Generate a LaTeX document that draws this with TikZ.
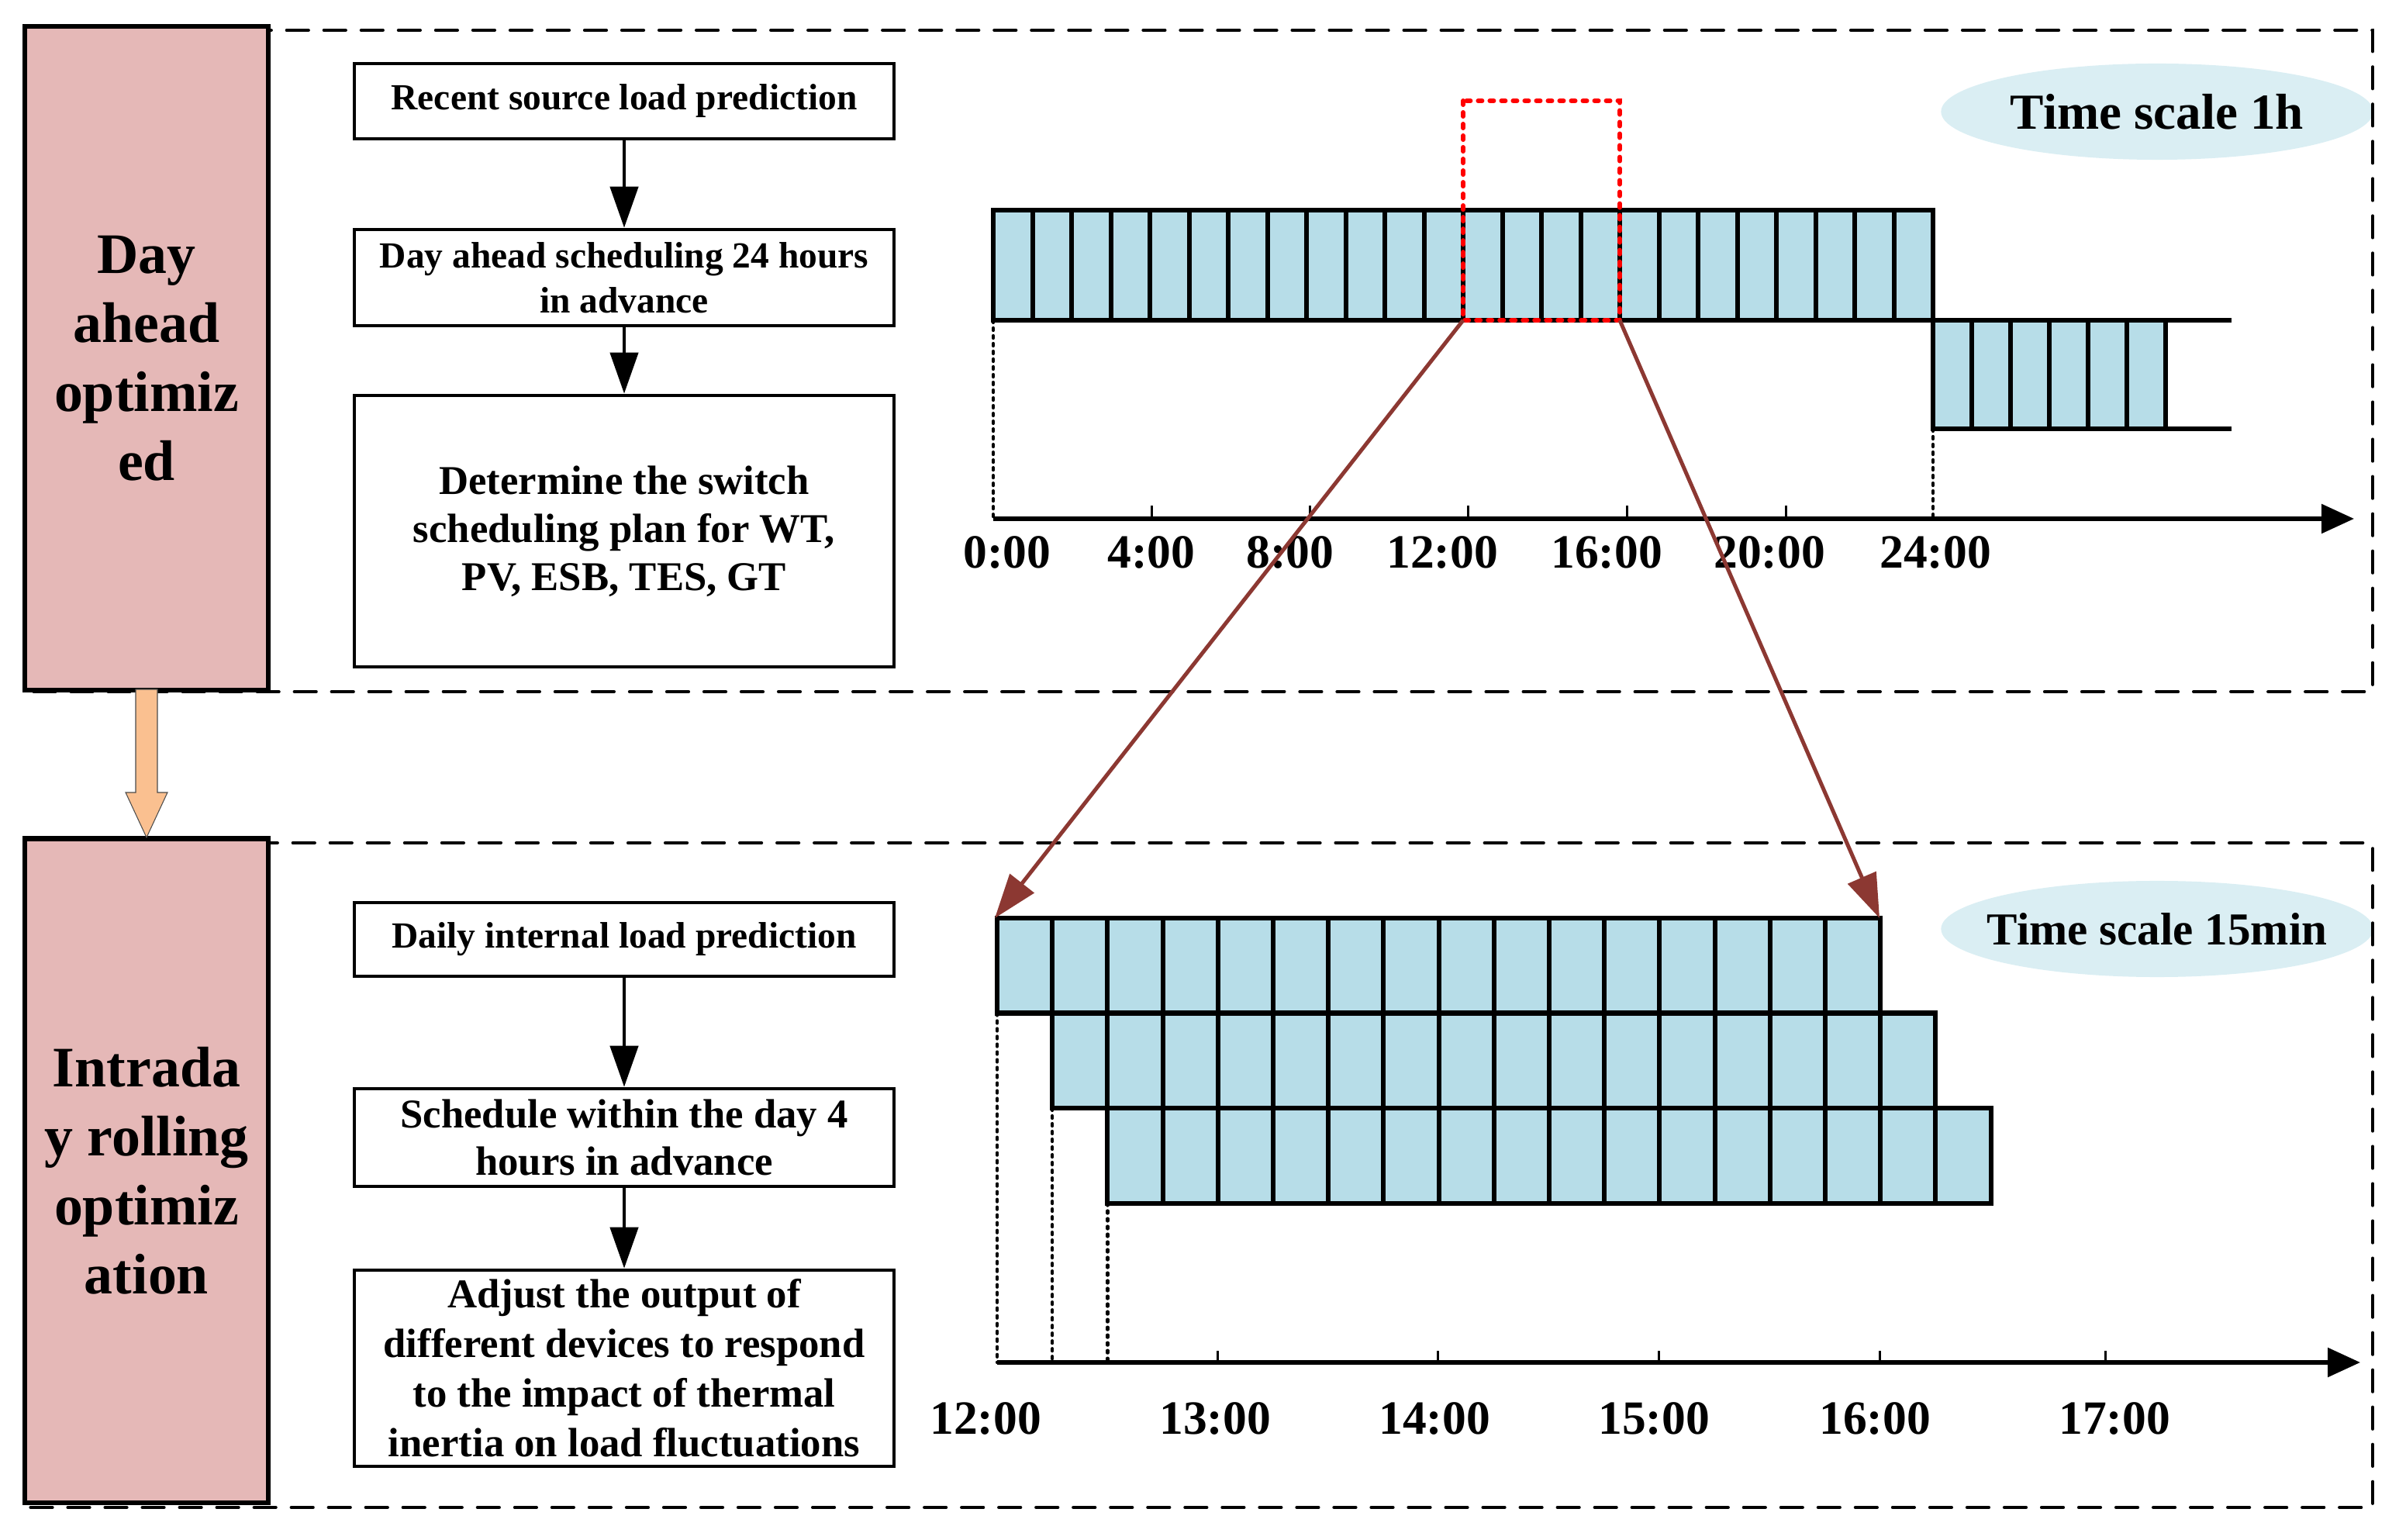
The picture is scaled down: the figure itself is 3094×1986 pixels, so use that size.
\documentclass[tikz,border=0pt]{standalone}
\usepackage{fontspec}
\setmainfont{Liberation Serif}
\usetikzlibrary{arrows.meta,shapes.geometric}
\definecolor{pinkc}{HTML}{E5B8B7}
\definecolor{cellc}{HTML}{B7DDE8}
\definecolor{ellc}{HTML}{DAEEF3}
\definecolor{orangec}{HTML}{FAC090}
\definecolor{brownc}{HTML}{8C3832}
\begin{document}
\begin{tikzpicture}[x=0.01cm,y=-0.01cm,
  flowbox/.style={draw, fill=white, line width=0.045cm, minimum width=6.96cm, inner sep=0pt, align=center},
  pinkbox/.style={draw, fill=pinkc, line width=0.06cm, minimum width=3.14cm, minimum height=8.555cm, inner sep=0pt, align=center, font=\bfseries\fontsize{21}{25.3}\selectfont},
  flowarrow/.style={line width=0.045cm, -{Triangle[length=0.53cm,width=0.36cm]}},
  cellst/.style={fill=cellc, draw=black, line width=0.06cm},
  axisst/.style={line width=0.055cm, -{Triangle[length=0.42cm,width=0.37cm]}},
  tickst/.style={line width=0.03cm},
  dotst/.style={line width=0.042cm, line cap=round, dash pattern=on 0.03cm off 0.07cm},
  paneldash/.style={line width=0.042cm, line cap=round, dash pattern=on 0.28cm off 0.2cm},
  zoomarrow/.style={draw=brownc, line width=0.05cm, -{Triangle[length=0.57cm,width=0.39cm]}},
  timelabel/.style={font=\bfseries\fontsize{17.5}{20}\selectfont, inner sep=0pt},
  scaleell/.style={ellipse, fill=ellc, minimum width=5.57cm, minimum height=1.24cm, inner sep=0pt}]
\useasboundingbox (0,0) rectangle (3094,1986);

% scale ellipses
\node[scaleell] (ts1) at (2782,144) {};
\node[font=\bfseries\fontsize{18.5}{20}\selectfont, inner sep=0pt] (ts1t) at (ts1.center) {Time scale 1h};
\node[scaleell] (ts2) at (2782,1198) {};
\node[font=\bfseries\fontsize{16.8}{20}\selectfont, inner sep=0pt] (ts2t) at (ts2.center) {Time scale 15min};

% dashed panels
\draw[paneldash] (32,39) rectangle (3060,892);
\draw[paneldash] (32,1087) rectangle (3060,1944);

% pink boxes
\node[pinkbox] (p1) at (189,462) {Day\\ahead\\optimiz\\ed};
\node[pinkbox] (p2) at (189,1509.5) {Intrada\\y rolling\\optimiz\\ation};

% orange arrow between the stages
\draw[fill=orangec, draw=black!70, line width=0.3pt]
  (175,889) -- (203,889) -- (203,1022) -- (216,1022) -- (189,1080) -- (162,1022) -- (175,1022) -- cycle;

% flow boxes, day ahead
\node[flowbox, minimum height=0.97cm, font=\bfseries\fontsize{13.5}{16.4}\selectfont] (b1) at (805,130.5) {Recent source load prediction};
\node[flowbox, minimum height=1.24cm, font=\bfseries\fontsize{13.5}{16.4}\selectfont] (b2) at (805,358) {Day ahead scheduling 24 hours\\in advance};
\node[flowbox, minimum height=3.5cm, font=\bfseries\fontsize{15}{17.6}\selectfont] (b3) at (805,685) {Determine the switch\\scheduling plan for WT,\\PV, ESB, TES, GT};
\draw[flowarrow] (b1) -- (b2);
\draw[flowarrow] (b2) -- (b3);

% flow boxes, intraday
\node[flowbox, minimum height=0.95cm, font=\bfseries\fontsize{13.5}{16.4}\selectfont] (b4) at (805,1211.5) {Daily internal load prediction};
\node[flowbox, minimum height=1.26cm, font=\bfseries\fontsize{15}{17.5}\selectfont] (b5) at (805,1467) {Schedule within the day 4\\hours in advance};
\node[flowbox, minimum height=2.53cm, font=\bfseries\fontsize{15}{18.2}\selectfont] (b6) at (805,1764.5) {Adjust the output of\\different devices to respond\\to the impact of thermal\\inertia on load fluctuations};
\draw[flowarrow] (b4) -- (b5);
\draw[flowarrow] (b5) -- (b6);

% ---------- day-ahead timeline ----------
\foreach \i in {0,...,23} \draw[cellst] (1281+\i*50.5,271) rectangle ++(50.5,142);
\foreach \i in {0,...,5} \draw[cellst] (2493+\i*50,413) rectangle ++(50,140);
\draw[line width=0.06cm] (2793,413) -- (2878,413);
\draw[line width=0.06cm] (2793,553) -- (2878,553);
\coordinate (a0) at (1281,669);
\coordinate (a1) at (3036,669);
\draw[dotst] (1281,413) -- (a0);
\draw[dotst] (2493,553) -- (2493,669);
\draw[axisst] (a0) -- (a1);
\foreach \x in {1485,1689,1893,2098,2303} \draw[tickst] (\x,669) -- (\x,652);
\node[timelabel] (u0) at (1299,712) {0:00};
\node[timelabel] (u4) at (1485,712) {4:00};
\node[timelabel] (u8) at (1664,712) {8:00};
\node[timelabel] (u12) at (1860,712) {12:00};
\node[timelabel] (u16) at (2072,712) {16:00};
\node[timelabel] (u20) at (2282,712) {20:00};
\node[timelabel] (u24) at (2496,712) {24:00};

% red zoom window
\draw[red, line width=0.06cm, line cap=round, dash pattern=on 0.05cm off 0.1cm] (1887,130) rectangle (2089,413);

% ---------- intraday timeline ----------
\foreach \r in {0,1,2}
  \foreach \i in {0,...,15}
    \draw[cellst] (1286+\r*71.2+\i*71.2,1184+\r*122.5) rectangle ++(71.2,122.5);
\coordinate (c0) at (1286,1757);
\coordinate (c1) at (3044,1757);
\draw[dotst] (1286,1306.5) -- (1286,1757);
\draw[dotst] (1357.2,1429) -- (1357.2,1757);
\draw[dotst] (1428.4,1551.5) -- (1428.4,1757);
\draw[axisst] (c0) -- (c1);
\foreach \x in {1570,1854,2139,2424,2715} \draw[tickst] (\x,1757) -- (\x,1742);
\node[timelabel] (l12) at (1271,1829) {12:00};
\node[timelabel] (l13) at (1567,1829) {13:00};
\node[timelabel] (l14) at (1850,1829) {14:00};
\node[timelabel] (l15) at (2133,1829) {15:00};
\node[timelabel] (l16) at (2418,1829) {16:00};
\node[timelabel] (l17) at (2727,1829) {17:00};

% zoom connectors
\coordinate (zl) at (1887,413);
\coordinate (zr) at (2089,413);
\coordinate (tl) at (1283,1184);
\coordinate (tr) at (2424,1184);
\draw[zoomarrow] (zl) -- (tl);
\draw[zoomarrow] (zr) -- (tr);
\end{tikzpicture}
\end{document}
